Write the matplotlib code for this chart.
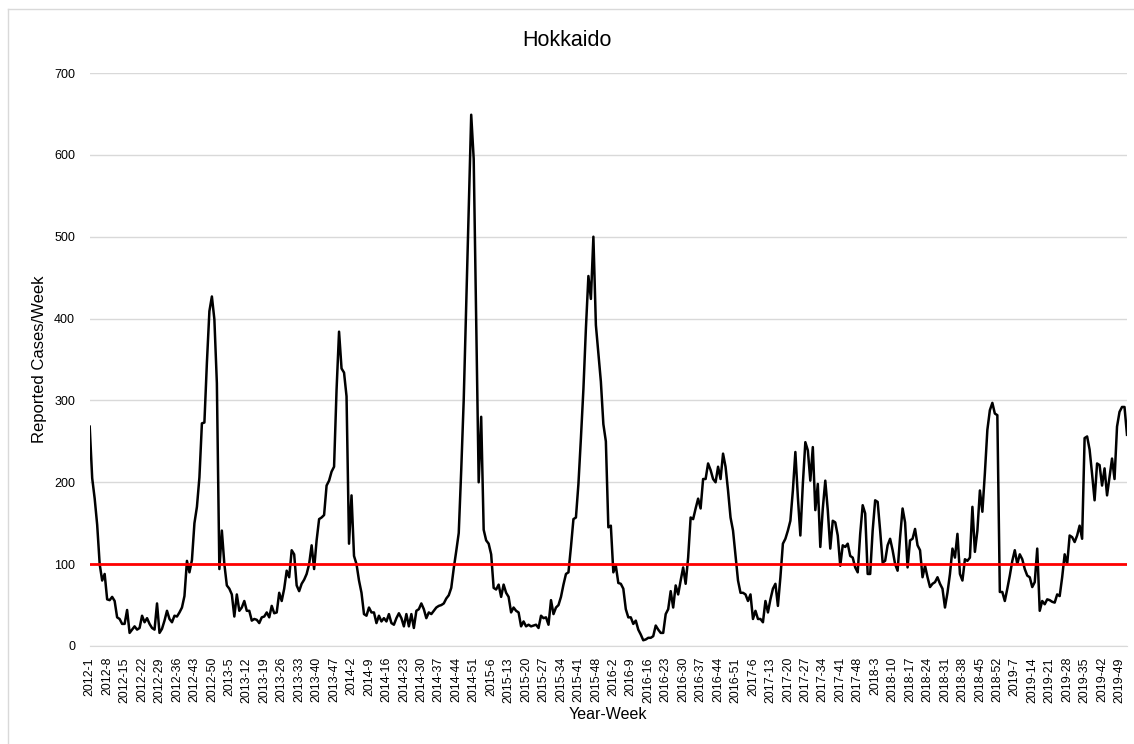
import matplotlib
matplotlib.use("Agg")
import matplotlib.pyplot as plt
from matplotlib.lines import Line2D

# weekly reported cases, one list per year (2015 has 53 weeks)
cases_2012 = [268, 205, 180, 148, 100, 80, 88, 57, 56, 60, 55, 35, 33, 27, 27, 44, 16, 20, 24, 20,
              22, 37, 29, 34, 27, 22, 20, 52, 16, 21, 31, 43, 33, 29, 37, 36, 41, 47, 61, 104,
              90, 105, 150, 170, 206, 272, 273, 346, 409, 427, 399, 321]
cases_2013 = [94, 141, 100, 74, 70, 63, 36, 63, 43, 47, 55, 43, 43, 31, 33, 32, 28, 35, 36, 41,
              35, 49, 40, 41, 65, 55, 70, 92, 84, 117, 112, 74, 67, 76, 81, 88, 100, 123, 94, 129,
              155, 157, 160, 196, 202, 213, 219, 313, 384, 339, 334, 305]
cases_2014 = [125, 184, 110, 100, 80, 65, 39, 37, 47, 41, 41, 28, 37, 30, 34, 30, 39, 28, 26, 34,
              40, 34, 24, 39, 24, 39, 22, 43, 45, 52, 45, 34, 41, 39, 43, 47, 49, 50, 52, 58,
              62, 71, 95, 116, 138, 215, 301, 418, 538, 649, 595, 400]
cases_2015 = [200, 280, 142, 129, 125, 112, 71, 69, 75, 60, 75, 65, 60, 41, 47, 43, 41, 24, 30, 24,
              26, 24, 25, 26, 22, 37, 34, 35, 26, 56, 39, 47, 50, 60, 75, 88, 90, 121, 155, 157,
              198, 254, 314, 388, 452, 424, 500, 392, 357, 323, 271, 250, 145]
cases_2016 = [147, 90, 98, 77, 76, 70, 45, 35, 35, 27, 31, 20, 14, 7, 8, 10, 10, 12, 25, 20,
              16, 16, 39, 45, 67, 47, 74, 63, 80, 96, 76, 108, 157, 155, 168, 180, 168, 204, 204, 223,
              215, 204, 200, 219, 204, 235, 219, 190, 157, 141, 110, 80]
cases_2017 = [65, 65, 63, 55, 63, 33, 43, 33, 33, 29, 55, 41, 57, 70, 76, 49, 84, 125, 131, 141,
              153, 190, 237, 182, 135, 198, 249, 239, 202, 243, 166, 198, 121, 168, 202, 166, 119, 153, 151, 135,
              98, 123, 121, 125, 110, 108, 96, 90, 137, 172, 162, 88]
cases_2018 = [88, 141, 178, 176, 141, 102, 104, 123, 131, 117, 100, 92, 133, 168, 151, 96, 129, 131, 143, 123,
              117, 84, 98, 84, 72, 76, 78, 84, 76, 70, 47, 65, 88, 119, 108, 137, 88, 80, 106, 104,
              108, 170, 115, 141, 190, 164, 211, 264, 288, 297, 284, 282]
cases_2019 = [66, 66, 55, 70, 86, 104, 117, 100, 112, 106, 94, 86, 84, 72, 78, 119, 43, 55, 51, 57,
              56, 54, 53, 63, 61, 84, 112, 100, 135, 133, 127, 135, 147, 131, 254, 256, 240, 210, 178, 223,
              221, 196, 217, 184, 207, 229, 204, 268, 286, 292, 292, 258]

years = [2012, 2013, 2014, 2015, 2016, 2017, 2018, 2019]
yearly = [cases_2012, cases_2013, cases_2014, cases_2015, cases_2016, cases_2017, cases_2018, cases_2019]
threshold = 100

labels = []
cases = []
for yr, vals in zip(years, yearly):
    for wk, v in enumerate(vals, start=1):
        labels.append(f"{yr}-{wk}")
        cases.append(v)
x = list(range(len(cases)))

plt.rcParams['font.family'] = ['Liberation Sans', 'DejaVu Sans']

fig = plt.figure(figsize=(11.34, 7.44), dpi=100)
ax = fig.add_axes([89.7 / 1134, 1 - 646 / 744, (1127 - 89.7) / 1134, (646 - 73) / 744])

ax.plot(x, cases, color='black', lw=1.8, zorder=3)
ax.axhline(threshold, color='#FF0000', lw=2.0, zorder=4)

ax.set_xlim(0, len(cases) - 1)
ax.set_ylim(0, 700)
ax.set_yticks(range(0, 701, 100))
ax.grid(axis='y', color='#D9D9D9', lw=1)
ax.set_axisbelow(True)
ax.set_xticks(x[::7])
ax.set_xticklabels(labels[::7], rotation=90, fontsize=8.9)
ax.tick_params(axis='both', length=0, colors='#000000')
ax.tick_params(axis='x', pad=8, labelsize=8.9)
ax.tick_params(axis='y', pad=10.5, labelsize=9)
for side in ['top', 'right', 'left']:
    ax.spines[side].set_visible(False)
ax.spines['bottom'].set_color('#D9D9D9')

ax.set_xlabel('Year-Week', fontsize=11.5, labelpad=3)
ax.set_ylabel('Reported Cases/Week', fontsize=12, labelpad=5)
fig.text(567 / 1134, 1 - 40 / 744, 'Hokkaido', ha='center', va='center', fontsize=15.5)

# light chart-area border (left and top edges visible in the reference)
fig.add_artist(Line2D([8 / 1134, 8 / 1134], [0, 1 - 9 / 744], color='#D9D9D9', lw=1))
fig.add_artist(Line2D([8 / 1134, 1], [1 - 9 / 744, 1 - 9 / 744], color='#D9D9D9', lw=1))

fig.savefig('out.png', dpi=100)
